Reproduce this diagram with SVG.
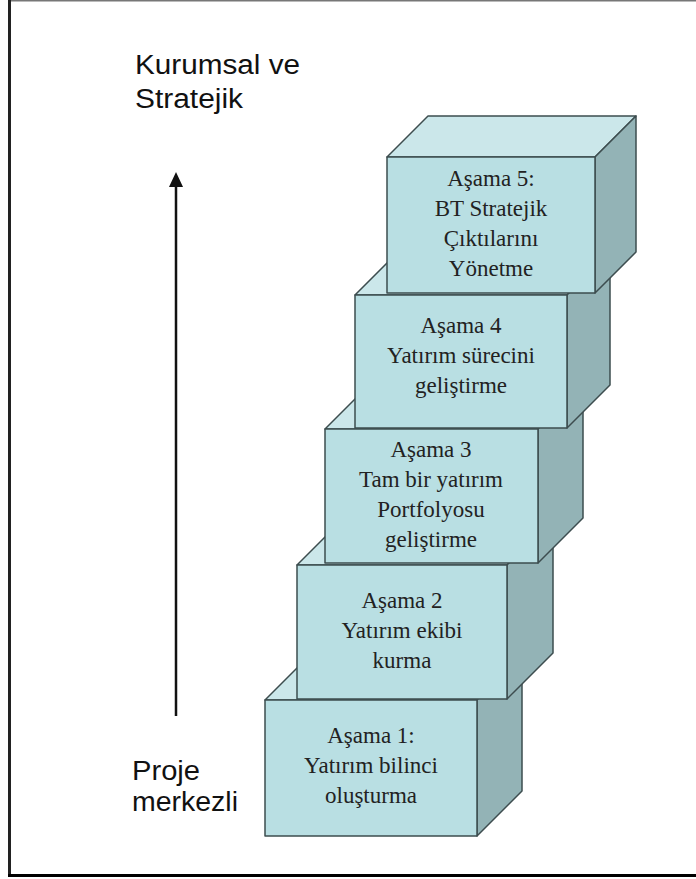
<svg xmlns="http://www.w3.org/2000/svg" width="696" height="879" viewBox="0 0 696 879">
<style>
.front{fill:#B9DFE3;stroke:#3D4D4F;stroke-width:1.5;stroke-linejoin:round}
.top{fill:#CBE7EA;stroke:#3D4D4F;stroke-width:1.5;stroke-linejoin:round}
.side{fill:#93B3B6;stroke:#3D4D4F;stroke-width:1.5;stroke-linejoin:round}
.lbl{font-family:"Liberation Serif","Times New Roman",serif;font-size:23px;fill:#222;text-anchor:middle}
.side-lbl{font-family:"Liberation Sans",Arial,sans-serif;font-size:27px;fill:#111}
</style>
<rect x="0" y="0" width="696" height="879" fill="#fff"/>
<g id="frame">
<line x1="10" y1="0.75" x2="696" y2="0.75" stroke="#777" stroke-width="1.5"/>
<line x1="9.5" y1="0" x2="9.5" y2="877" stroke="#222" stroke-width="3"/>
<line x1="8" y1="875.5" x2="696" y2="875.5" stroke="#000" stroke-width="3"/>
</g>
<g id="box1">
<path class="top" d="M265,700 L310,655 L522,655 L477,700 Z"/>
<path class="side" d="M477,700 L522,655 L522,791 L477,836 Z"/>
<rect class="front" x="265" y="700" width="212" height="136"/>
<text class="lbl" x="371" y="743">Aşama 1:</text>
<text class="lbl" x="371" y="773">Yatırım bilinci</text>
<text class="lbl" x="371" y="803">oluşturma</text>
</g>
<g id="box2">
<path class="top" d="M297,565 L343,519 L553,519 L507,565 Z"/>
<path class="side" d="M507,565 L553,519 L553,653 L507,699 Z"/>
<rect class="front" x="297" y="565" width="210" height="134"/>
<text class="lbl" x="402" y="608">Aşama 2</text>
<text class="lbl" x="402" y="638">Yatırım ekibi</text>
<text class="lbl" x="402" y="668">kurma</text>
</g>
<g id="box3">
<path class="top" d="M325,429 L370,384 L583,384 L538,429 Z"/>
<path class="side" d="M538,429 L583,384 L583,518 L538,563 Z"/>
<rect class="front" x="325" y="429" width="213" height="134"/>
<text class="lbl" x="431" y="457">Aşama 3</text>
<text class="lbl" x="431" y="487">Tam bir yatırım</text>
<text class="lbl" x="431" y="517">Portfolyosu</text>
<text class="lbl" x="431" y="547">geliştirme</text>
</g>
<g id="box4">
<path class="top" d="M355,295 L398,252 L610,252 L567,295 Z"/>
<path class="side" d="M567,295 L610,252 L610,385 L567,428 Z"/>
<rect class="front" x="355" y="295" width="212" height="133"/>
<text class="lbl" x="461" y="333">Aşama 4</text>
<text class="lbl" x="461" y="363">Yatırım sürecini</text>
<text class="lbl" x="461" y="393">geliştirme</text>
</g>
<g id="box5">
<path class="top" d="M387,157 L428,116 L636,116 L595,157 Z"/>
<path class="side" d="M595,157 L636,116 L636,252 L595,293 Z"/>
<rect class="front" x="387" y="157" width="208" height="136"/>
<text class="lbl" x="491" y="186">Aşama 5:</text>
<text class="lbl" x="491" y="216">BT Stratejik</text>
<text class="lbl" x="491" y="246">Çıktılarını</text>
<text class="lbl" x="491" y="276">Yönetme</text>
</g>
<g id="connectors">
<line x1="176" y1="716" x2="176" y2="185" stroke="#111" stroke-width="2.5"/>
<polygon points="176,172 169,187 183,187" fill="#111"/>
</g>
<g id="labels">
<text class="side-lbl" x="135" y="74" textLength="165" lengthAdjust="spacingAndGlyphs">Kurumsal ve</text>
<text class="side-lbl" x="135" y="108" textLength="108" lengthAdjust="spacingAndGlyphs">Stratejik</text>
<text class="side-lbl" x="132" y="780" textLength="68" lengthAdjust="spacingAndGlyphs">Proje</text>
<text class="side-lbl" x="132" y="811" textLength="106" lengthAdjust="spacingAndGlyphs">merkezli</text>
</g>
</svg>
